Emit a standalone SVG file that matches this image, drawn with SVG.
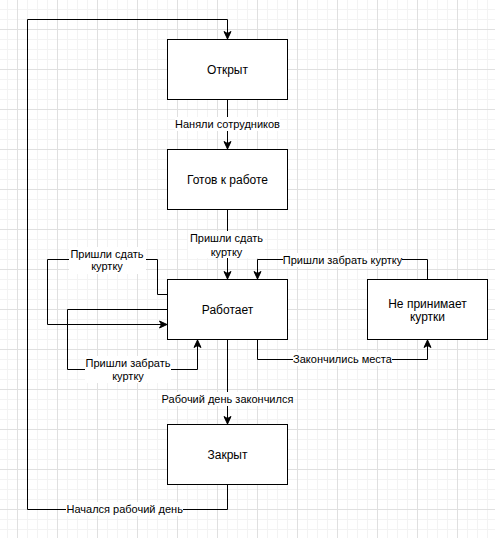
<svg xmlns="http://www.w3.org/2000/svg" width="495" height="538" viewBox="0 0 495 538">
  <defs>
    <pattern id="grid" x="17" y="29" width="40" height="40" patternUnits="userSpaceOnUse">
      <path d="M10.5 0V40M20.5 0V40M30.5 0V40M0 10.5H40M0 20.5H40M0 30.5H40" stroke="#f3f3f3" stroke-width="1" fill="none"/>
      <path d="M0.5 0V40M0 0.5H40" stroke="#e0e0e0" stroke-width="1" fill="none"/>
    </pattern>
    <marker id="arrow" markerUnits="userSpaceOnUse" markerWidth="9" markerHeight="9" viewBox="0 0 9 9" refX="8" refY="4.5" orient="auto">
      <path d="M0.5 1 L8 4.5 L0.5 8 L2.5 4.5 Z" fill="#000" stroke="#000" stroke-width="1" stroke-linejoin="miter"/>
    </marker>
  </defs>
  <style>
    .box { fill: #fff; stroke: #000; stroke-width: 1; }
    .edge { fill: none; stroke: #000; stroke-width: 1; }
    .node-text { font-family: "Liberation Sans", Arial, sans-serif; font-size: 12px; fill: #000; text-anchor: middle; }
    .label-text { font-family: "Liberation Sans", Arial, sans-serif; font-size: 11px; fill: #000; text-anchor: middle; }
    .label-bg { fill: #fff; stroke: none; }
  </style>

  <rect width="495" height="538" fill="#fff"/>
  <rect width="495" height="538" fill="url(#grid)"/>

  <g id="connectors">
    <!-- Закрыт -> Открыт -->
    <path class="edge" d="M227.5 484.5 V509.5 H27.5 V19.5 H227.5 V39" marker-end="url(#arrow)"/>
    <!-- Открыт -> Готов к работе -->
    <path class="edge" d="M227.5 99.5 V149" marker-end="url(#arrow)"/>
    <!-- Готов к работе -> Работает -->
    <path class="edge" d="M227.5 209.5 V279" marker-end="url(#arrow)"/>
    <!-- Работает self loop: пришли сдать -->
    <path class="edge" d="M167.5 294.5 H157.5 V259.5 H47.5 V324.5 H167" marker-end="url(#arrow)"/>
    <!-- Работает self loop: пришли забрать -->
    <path class="edge" d="M167.5 309.5 H67.5 V369.5 H197.5 V340" marker-end="url(#arrow)"/>
    <!-- Работает -> Не принимает куртки -->
    <path class="edge" d="M257.5 339.5 V359.5 H427.5 V340" marker-end="url(#arrow)"/>
    <!-- Не принимает куртки -> Работает -->
    <path class="edge" d="M427.5 279.5 V259.5 H257.5 V279" marker-end="url(#arrow)"/>
    <!-- Работает -> Закрыт -->
    <path class="edge" d="M227.5 339.5 V424" marker-end="url(#arrow)"/>

    <!-- edge labels -->
    <rect class="label-bg" x="175" y="117" width="105" height="14"/>
    <text class="label-text" x="227.5" y="128.3">Наняли сотрудников</text>

    <rect class="label-bg" x="188" y="231" width="77" height="27"/>
    <text class="label-text" x="226.5" y="242.3">Пришли сдать</text>
    <text class="label-text" x="226.5" y="255.6">куртку</text>

    <rect class="label-bg" x="69" y="247" width="77" height="27"/>
    <text class="label-text" x="107" y="257.8">Пришли сдать</text>
    <text class="label-text" x="107" y="270.2">куртку</text>

    <rect class="label-bg" x="85" y="356" width="86" height="27"/>
    <text class="label-text" x="128" y="367.3">Пришли забрать</text>
    <text class="label-text" x="128" y="380">куртку</text>

    <rect class="label-bg" x="283" y="253" width="119" height="14"/>
    <text class="label-text" x="342.5" y="264">Пришли забрать куртку</text>

    <rect class="label-bg" x="293" y="352" width="99" height="14"/>
    <text class="label-text" x="342.5" y="363">Закончились места</text>

    <rect class="label-bg" x="161" y="392" width="133" height="14"/>
    <text class="label-text" x="227.5" y="403.3">Рабочий день закончился</text>

    <rect class="label-bg" x="66" y="502" width="117" height="14"/>
    <text class="label-text" x="124.7" y="513">Начался рабочий день</text>
  </g>

  <g id="node-open">
    <rect class="box" x="167.5" y="39.5" width="120" height="60"/>
    <text class="node-text" x="227.5" y="73.5">Открыт</text>
  </g>

  <g id="node-ready">
    <rect class="box" x="167.5" y="149.5" width="120" height="60"/>
    <text class="node-text" x="227.5" y="183.5">Готов к работе</text>
  </g>

  <g id="node-working">
    <rect class="box" x="167.5" y="279.5" width="120" height="60"/>
    <text class="node-text" x="227.5" y="313.5">Работает</text>
  </g>

  <g id="node-full">
    <rect class="box" x="367.5" y="279.5" width="120" height="60"/>
    <text class="node-text" x="427.5" y="307.5">Не принимает</text>
    <text class="node-text" x="427.5" y="320.8">куртки</text>
  </g>

  <g id="node-closed">
    <rect class="box" x="167.5" y="424.5" width="120" height="60"/>
    <text class="node-text" x="227.5" y="458.5">Закрыт</text>
  </g>
</svg>
